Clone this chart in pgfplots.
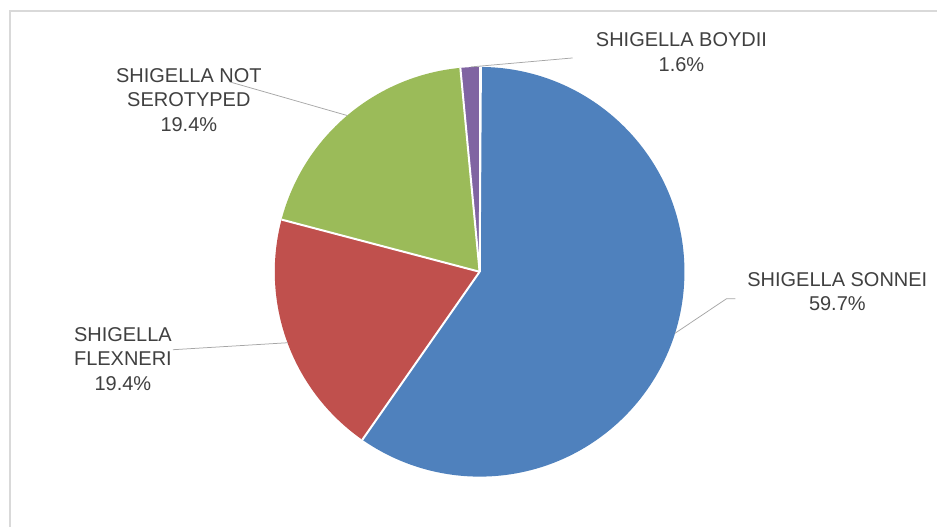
\documentclass[border=0pt]{standalone}
\usepackage{pgfplots}
\usepackage{pgfplotstable}
\pgfplotsset{compat=1.18}
\usepackage{fontspec}
\setmainfont{Liberation Sans}
\definecolor{cSonnei}{HTML}{4F81BD}
\definecolor{cFlex}{HTML}{C0504D}
\definecolor{cNot}{HTML}{9BBB59}
\definecolor{cBoyd}{HTML}{8064A2}
\definecolor{txt}{HTML}{404040}
\definecolor{lead}{HTML}{A6A6A6}
\definecolor{frame}{HTML}{D9D9D9}

\pgfplotstableread{
label value
Sonnei 59.7
Flexneri 19.4
NotSerotyped 19.4
Boydii 1.6
}\piedata
\pgfplotstablegetelem{0}{value}\of\piedata \let\va\pgfplotsretval
\pgfplotstablegetelem{1}{value}\of\piedata \let\vb\pgfplotsretval
\pgfplotstablegetelem{2}{value}\of\piedata \let\vc\pgfplotsretval
\pgfplotstablegetelem{3}{value}\of\piedata \let\vd\pgfplotsretval
\pgfmathsetmacro\aA{90}
\pgfmathsetmacro\aB{\aA-3.6*\va}
\pgfmathsetmacro\aC{\aB-3.6*\vb}
\pgfmathsetmacro\aD{\aC-3.6*\vc}
\pgfmathsetmacro\aE{\aD-3.6*\vd}

\begin{document}%
\begin{tikzpicture}
\begin{axis}[
  width=938pt, height=527pt, scale only axis,
  xmin=0, xmax=938, ymin=0, ymax=527,
  hide axis, clip=false,
]
\path (axis cs:0,0) rectangle (axis cs:938,527);
\draw[frame, line width=1.5pt] (axis cs:10,0) -- (axis cs:10,516) -- (axis cs:938,516);
% slices
\fill[cSonnei] (axis cs:480,255) -- +(\aA:205pt) arc[start angle=\aA, end angle=\aB, radius=205pt] -- cycle;
\fill[cFlex] (axis cs:480,255) -- +(\aB:205pt) arc[start angle=\aB, end angle=\aC, radius=205pt] -- cycle;
\fill[cNot] (axis cs:480,255) -- +(\aC:205pt) arc[start angle=\aC, end angle=\aD, radius=205pt] -- cycle;
\fill[cBoyd] (axis cs:480,255) -- +(\aD:205pt) arc[start angle=\aD, end angle=\aE, radius=205pt] -- cycle;
\draw[white, line width=2pt] (axis cs:480,255) -- +(\aA:205pt);
\draw[white, line width=2pt] (axis cs:480,255) -- +(\aB:205pt);
\draw[white, line width=2pt] (axis cs:480,255) -- +(\aC:205pt);
\draw[white, line width=2pt] (axis cs:480,255) -- +(\aD:205pt);
\draw[white, line width=2pt] (axis cs:480,255) -- +(\aE:205pt);
% leader lines
\draw[lead, line width=0.75pt] (axis cs:471,460) -- (axis cs:573,469);
\draw[lead, line width=0.75pt] (axis cs:347.5,411.4) -- (axis cs:230,445);
\draw[lead, line width=0.75pt] (axis cs:288,184) -- (axis cs:173,177);
\draw[lead, line width=0.75pt] (axis cs:675.6,193.5) -- (axis cs:727,228) -- (axis cs:736,228);
% labels
\begin{scope}[every node/.style={text=txt, align=center, font=\fontsize{20}{24.5}\selectfont, inner sep=0pt}]
\node at (axis cs:682,475) {SHIGELLA BOYDII\\1.6\%};
\node at (axis cs:189,427) {SHIGELLA NOT\\SEROTYPED\\19.4\%};
\node at (axis cs:123,168) {SHIGELLA\\FLEXNERI\\19.4\%};
\node at (axis cs:838,235) {SHIGELLA SONNEI\\59.7\%};
\end{scope}
\end{axis}
\end{tikzpicture}%
\end{document}
